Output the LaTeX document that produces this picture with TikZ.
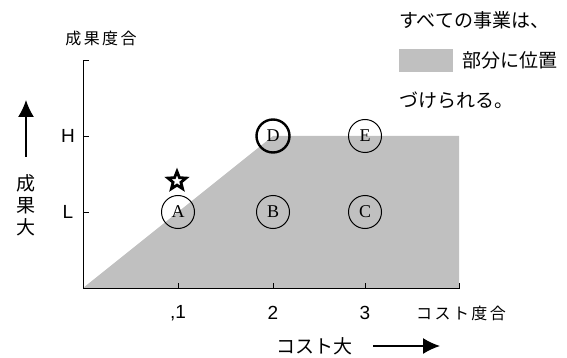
\documentclass[tikz,border=0pt]{standalone}
\usepackage{fontspec}
\setmainfont{Liberation Serif}
\setsansfont{Liberation Sans}
\newfontfamily\cjk{Noto Sans CJK JP}
\newfontfamily\cjkwide[LetterSpace=15]{Noto Sans CJK JP}
\usetikzlibrary{arrows.meta,shapes.geometric}
\definecolor{areagray}{RGB}{192,192,192}

\begin{document}
\begin{tikzpicture}[x=1pt,y=-1pt,
  caseball/.style={circle,draw,line width=1pt,minimum size=33pt,inner sep=0pt,font=\fontsize{18}{18}\selectfont},
  axislabel/.style={font=\sffamily\fontsize{19}{19}\selectfont},
  jplabel/.style={font=\cjkwide\fontsize{16}{16}\selectfont},
  bigtext/.style={font=\cjk\fontsize{19}{22}\selectfont},
  notetext/.style={font=\cjk\fontsize{19}{19}\selectfont,anchor=west,inner sep=0pt},
  bigarrow/.style={line width=1.5pt,-{Latex[length=17pt,width=16pt]}}]
\useasboundingbox (0,0) rectangle (567,358);
\fill[areagray] (83,288) -- (273,136) -- (459,136) -- (459,288) -- cycle;
\draw[line width=0.8pt] (89,60) -- (83,60) -- (83,288) -- (459,288) -- (459,283);
\foreach \y/\A in {136/H,212/L} {
    \draw[line width=0.8pt] (83,\y) -- (89,\y);
    \node[axislabel] (tick\A) at (68,\y) {\A};
}
\foreach \x/\A [count=\xi] in {178/{,1},273/2,365/3} {
    \draw[line width=0.8pt] (\x,288) -- (\x,283);
    \node[axislabel] (num\xi) at (\x,313) {\A};
}
\node[jplabel] (yname) at (101,38) {成果度合};
\node[jplabel] (xname) at (461,313) {コスト度合};
\foreach \n/\x/\y in {A/178/212,B/273/212,C/365/212,E/365/136}
    \node[caseball] (\n) at (\x,\y) {\n};
\node[caseball,line width=2.4pt] (D) at (273,136) {D};
\node[star,star points=5,star point ratio=2.3,draw,line width=2.8pt,fill=white,minimum size=19pt,inner sep=0pt] (hero) at (177,181) {};
\node[bigtext,align=center] (ybig) at (26,205) {成\\果\\大};
\coordinate (ytail) at (26,157);
\coordinate (yhead) at (26,100);
\draw[bigarrow] (ytail) -- (yhead);
\node[bigtext] (xbig) at (314,346) {コスト大};
\coordinate (xtail) at (373,346);
\coordinate (xhead) at (440,346);
\draw[bigarrow] (xtail) -- (xhead);
\node[notetext] (note1) at (399,20) {すべての事業は、};
\node[fill=areagray,minimum width=54pt,minimum height=23pt,inner sep=0pt,anchor=west] (swatch) at (399,60.5) {};
\node[notetext] (note2) at (462,60) {部分に位置};
\node[notetext] (note3) at (399,100) {づけられる。};
\end{tikzpicture}
\end{document}
